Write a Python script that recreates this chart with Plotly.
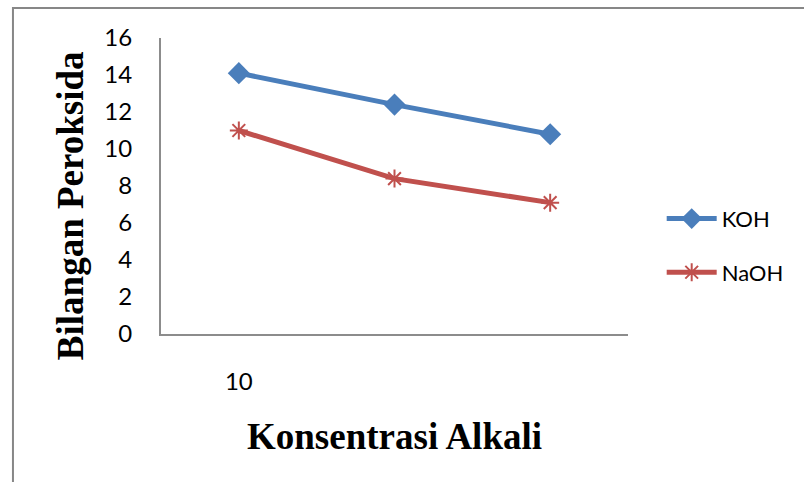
import plotly.graph_objects as go

# Alkali concentration categories (only the first one is labelled on the axis)
x_pos = [0, 1, 2]
x_labels = ["10", "", ""]

# Peroxide values per alkali type
koh = [14.1, 12.4, 10.8]
naoh = [11.0, 8.4, 7.1]

y_ticks = [0, 2, 4, 6, 8, 10, 12, 14, 16]

blue = "#4A7EBB"
red = "#C0504D"
axis_gray = "#8C8C8C"
tick_font = dict(family="Lato, Carlito, Calibri, sans-serif", size=24, color="#000000")
legend_font = dict(family="Lato, Carlito, Calibri, sans-serif", size=22, color="#000000")
title_font = dict(family="Liberation Serif, Times New Roman, serif", size=37, color="#000000")

fig = go.Figure()

fig.add_trace(go.Scatter(
    x=x_pos, y=koh, name="KOH", mode="lines+markers",
    legendgroup="koh",
    line=dict(color=blue, width=5),
    marker=dict(symbol="diamond", size=17, color=blue),
))

fig.add_trace(go.Scatter(
    x=x_pos, y=naoh, name="NaOH", mode="lines+markers",
    legendgroup="naoh",
    line=dict(color=red, width=5),
    marker=dict(symbol="asterisk-open", size=15, color=red,
                line=dict(color=red, width=2)),
))

fig.update_layout(
    width=804, height=482,
    margin=dict(l=161, r=176, t=38, b=148),
    paper_bgcolor="white", plot_bgcolor="white",
    showlegend=True,
    legend=dict(
        xref="container", yref="container",
        x=0.823, y=0.49, xanchor="left", yanchor="middle",
        font=legend_font, tracegroupgap=22, itemwidth=50,
        bgcolor="rgba(0,0,0,0)",
    ),
    xaxis=dict(
        range=[-0.5, 2.5],
        tickmode="array", tickvals=x_pos, ticktext=x_labels,
        showgrid=False, zeroline=False,
        showline=True, linecolor=axis_gray, linewidth=2,
        ticks="", tickfont=tick_font, ticklabelstandoff=25,
    ),
    yaxis=dict(
        range=[0, 16],
        tickmode="array", tickvals=y_ticks,
        showgrid=False, zeroline=False,
        showline=True, linecolor=axis_gray, linewidth=2,
        ticks="", tickfont=tick_font, ticklabelstandoff=22,
    ),
    annotations=[
        dict(text="<b>Konsentrasi Alkali</b>", xref="paper", yref="paper",
             x=0.5, y=-0.347, xanchor="center", yanchor="middle",
             showarrow=False, font=title_font),
        dict(text="<b>Bilangan Peroksida</b>", xref="paper", yref="paper",
             x=-0.195, y=0.435, xanchor="center", yanchor="middle",
             textangle=-90, showarrow=False, font=title_font),
    ],
    shapes=[
        # chart frame (extends past the right and bottom edges)
        dict(type="rect", xref="paper", yref="paper",
             x0=-0.317, x1=1.40, y0=-0.60, y1=1.101,
             line=dict(color="#878787", width=2), fillcolor="rgba(0,0,0,0)",
             layer="below"),
    ],
)

fig.write_html("out.html")
